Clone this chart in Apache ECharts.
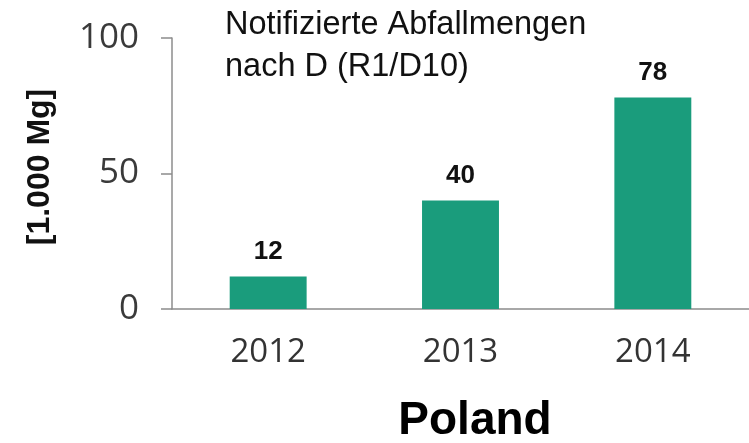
<!DOCTYPE html>
<html>
<head>
<meta charset="utf-8">
<script src="https://cdn.jsdelivr.net/npm/echarts@6/dist/echarts.min.js"></script>
<style>
  html, body { margin: 0; padding: 0; background: #fff; }
  #chart { width: 749px; height: 443px; }
</style>
</head>
<body>
<div id="chart"></div>
<script>
var years = ['2012', '2013', '2014'];
var amounts = [12, 40, 78];
var yTicks = { min: 0, max: 100, interval: 50 };

var chart = echarts.init(document.getElementById('chart'));
chart.setOption({
  animation: false,
  title: {
    text: 'Notifizierte Abfallmengen\nnach D (R1/D10)',
    left: 220,
    top: -1,
    textStyle: {
      fontFamily: 'Liberation Sans',
      fontSize: 32.5,
      fontWeight: 'normal',
      lineHeight: 42,
      color: '#111'
    }
  },
  graphic: [
    {
      type: 'text',
      x: 40,
      y: 167,
      rotation: Math.PI / 2,
      style: {
        text: '[1.000 Mg]',
        font: 'bold 32px "Liberation Sans"',
        fill: '#111',
        align: 'center',
        verticalAlign: 'middle'
      }
    },
    {
      type: 'text',
      x: 475,
      y: 421,
      style: {
        text: 'Poland',
        font: 'bold 46px "Liberation Sans"',
        fill: '#000',
        align: 'center',
        verticalAlign: 'middle'
      }
    }
  ],
  grid: { left: 172, right: 0, top: 38, bottom: 134 },
  xAxis: {
    type: 'category',
    data: years,
    axisLine: { lineStyle: { color: '#8c8c8c', width: 1.5 } },
    axisTick: { length: 10, interval: 0, lineStyle: { color: '#8c8c8c', width: 1.5 } },
    axisLabel: {
      margin: 27,
      fontFamily: 'Open Sans',
      fontSize: 33,
      color: '#333'
    }
  },
  yAxis: {
    type: 'value',
    min: yTicks.min,
    max: yTicks.max,
    interval: yTicks.interval,
    splitLine: { show: false },
    axisLine: { show: true, lineStyle: { color: '#8c8c8c', width: 1.5 } },
    axisTick: { show: true, length: 11, lineStyle: { color: '#8c8c8c', width: 1.5 } },
    axisLabel: {
      margin: 33,
      fontFamily: 'Open Sans',
      fontSize: 35,
      color: '#3a3a3a'
    }
  },
  series: [
    {
      type: 'bar',
      data: amounts,
      barWidth: '40%',
      itemStyle: { color: '#1a9c7c' },
      label: {
        show: true,
        position: 'top',
        distance: 12,
        fontFamily: 'Liberation Sans',
        fontSize: 26,
        fontWeight: 'bold',
        color: '#111'
      }
    }
  ]
});
</script>
</body>
</html>
